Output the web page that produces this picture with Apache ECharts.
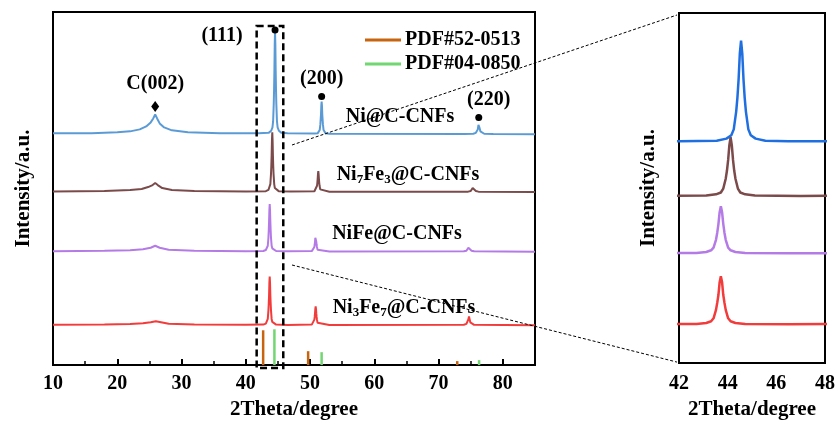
<!DOCTYPE html>
<html><head><meta charset="utf-8">
<script src="https://cdn.jsdelivr.net/npm/echarts@6/dist/echarts.min.js"></script>
<style>html,body{margin:0;padding:0;background:#fff}#c{width:838px;height:425px}</style>
</head><body><div id="c"></div>
<script>
// ---------- data (2Theta, intensity above each pattern's own baseline) ----------
const sampleNames = ['Ni@C-CNFs', 'Ni7Fe3@C-CNFs', 'NiFe@C-CNFs', 'Ni3Fe7@C-CNFs'];
const ni = [[10,1],[16,1],[20,2],[22,3],[23.5,5],[24.5,8],[25.2,12],[25.6,16],[25.9,20],[26.2,16],[26.6,11],[27.3,7],[28.5,4],[31,2],[36,1],[42,1],
  [43.55,1.5],[43.95,3.6],[44.15,7],[44.25,13],[44.35,31],[44.4,45],[44.45,64],[44.5,90],[44.55,103],[44.6,90],[44.65,64],[44.7,45],[44.75,31],[44.85,13],[44.95,7],[45.15,3.6],[45.55,1.5],[46.5,1],
  [50.7,0.8],[51.2,1.2],[51.4,2.3],[51.5,4.3],[51.6,10],[51.65,15],[51.7,20],[51.75,29],[51.8,33],[51.85,29],[51.9,20],[51.95,15],[52.0,10],[52.1,4.3],[52.2,2.3],[52.4,1.2],[53,0.6],
  [74,0.4],[75.4,0.6],[75.8,1.5],[76.0,3],[76.1,5],[76.15,7],[76.2,9.5],[76.25,11],[76.3,9.5],[76.35,7],[76.4,5],[76.5,3],[76.7,1.5],[77.1,0.6],[78.5,0.3],[85,0]];
const ni7fe3 = [[10,0.5],[18,1],[22,2],[23.8,3],[24.8,5],[25.5,7],[25.9,9],[26.3,7],[27,4],[28.5,2],[32,1],[40,0.5],
  [43.12,0.9],[43.52,2.1],[43.72,4],[43.82,8],[43.92,18],[43.97,26],[44.02,37],[44.07,52],[44.12,60],[44.17,52],[44.22,37],[44.27,26],[44.32,18],[44.42,8],[44.52,4],[44.72,2.1],[45.12,0.9],[47,0.5],
  [50.68,0.8],[50.88,1.5],[50.98,2.7],[51.08,6.3],[51.13,9],[51.18,13],[51.23,18],[51.28,21],[51.33,18],[51.38,13],[51.43,9],[51.48,6.3],[51.58,2.7],[51.68,1.5],[51.88,0.8],[53,0.3],
  [74.6,0.4],[75.0,1],[75.2,2],[75.3,4],[75.4,6],[75.5,4],[75.6,2],[75.8,1],[76.2,0.4],[85,0]];
const nife = [[10,0.5],[18,1],[22,1.5],[24,2.5],[25.2,4],[25.9,6],[26.6,4],[28,2],[32,1],[40,0.5],
  [42.72,0.7],[43.12,1.7],[43.32,3.4],[43.42,6],[43.52,14],[43.57,21],[43.62,30],[43.67,42],[43.72,48],[43.77,42],[43.82,30],[43.87,21],[43.92,14],[44.02,6],[44.12,3.4],[44.32,1.7],[44.72,0.7],[46.5,0.4],
  [50.27,0.6],[50.47,1.1],[50.57,2],[50.67,4.8],[50.72,7],[50.77,10],[50.82,14],[50.87,16],[50.92,14],[50.97,10],[51.02,7],[51.07,4.8],[51.17,2],[51.27,1.1],[51.47,0.6],[53,0.3],
  [73.93,0.4],[74.33,1],[74.53,2],[74.63,4],[74.73,6],[74.83,4],[74.93,2],[75.13,1],[75.53,0.4],[85,0]];
const ni3fe7 = [[10,0.5],[18,0.8],[22,1.2],[24,2],[25.2,3],[26,4],[26.8,3],[28,1.5],[32,0.8],[40,0.5],
  [42.72,0.7],[43.12,1.7],[43.32,3.4],[43.42,6.4],[43.52,15],[43.57,22],[43.62,30],[43.67,43],[43.72,49],[43.77,43],[43.82,30],[43.87,22],[43.92,15],[44.02,6.4],[44.12,3.4],[44.32,1.7],[44.72,0.7],[46.5,0.4],
  [50.27,0.7],[50.47,1.3],[50.57,2.5],[50.67,5.7],[50.72,8.4],[50.77,12],[50.82,16.5],[50.87,19],[50.92,16.5],[50.97,12],[51.02,8.4],[51.07,5.7],[51.17,2.5],[51.27,1.3],[51.47,0.7],[53,0.3],
  [73.93,0.5],[74.33,1.4],[74.53,3],[74.63,6],[74.73,9],[74.83,6],[74.93,3],[75.13,1.4],[75.53,0.5],[85,0]];
const pdfNames = ['PDF#52-0513', 'PDF#04-0850'];
const pdf52x = [42.7, 49.7, 72.9];
const pdf52y = [35, 14, 4];
const pdf04x = [44.45, 51.8, 76.3];
const pdf04y = [36, 13, 5];
const peakLabels = ['C(002)', '(111)', '(200)', '(220)'];
const peakX = [25.9, 44.55, 51.8, 76.25];
const peakY = [260, 337, 270, 249];
const mainTicks = {min: 10, max: 85, interval: 10};
const zoomTicks = {min: 42, max: 48, interval: 2};

// ---------- layout / style ----------
const FONT = '"Liberation Serif","Times New Roman",serif';
const leftOffsets = [232, 174, 114, 40];
const rightOffsets = [224, 169, 111, 39];
const curves = [ni, ni7fe3, nife, ni3fe7];
const leftColors = ['#5b9bd5', '#7b4a4a', '#b47ae6', '#f23c3c'];
const rightColors = ['#1f6fe0', '#7b4a4a', '#b47ae6', '#f23c3c'];
const tf = {fontFamily: FONT, fontWeight: 'bold', fontSize: 20, color: '#000'};

const chart = echarts.init(document.getElementById('c'), null, {renderer: 'canvas'});

function xAxisCfg(grid, t, withMinor, labelMargin, nameGap) {
  return {
    type: 'value', gridIndex: grid, min: t.min, max: t.max, interval: t.interval,
    name: '2Theta/degree', nameLocation: 'middle', nameGap: nameGap,
    nameTextStyle: Object.assign({}, tf, {fontSize: 21}),
    axisLine: {show: true, lineStyle: {color: '#000', width: 2}},
    axisTick: {show: withMinor, inside: true, length: 6, lineStyle: {color: '#000', width: 2}},
    minorTick: {show: withMinor, splitNumber: 2, length: 4, lineStyle: {color: '#000', width: 1.5}},
    axisLabel: Object.assign({}, tf, {margin: labelMargin, formatter: v => (Math.abs(v % t.interval) < 1e-9 ? String(v) : '')}),
    splitLine: {show: false}, minorSplitLine: {show: false}
  };
}
function yAxisCfg(grid, nameGap) {
  return {
    type: 'value', gridIndex: grid, min: 0, max: 355,
    name: 'Intensity/a.u.', nameLocation: 'middle', nameGap: nameGap, nameRotate: 90,
    nameTextStyle: Object.assign({}, tf, {fontSize: 21}),
    axisLine: {show: true, lineStyle: {color: '#000', width: 2}},
    axisTick: {show: false}, axisLabel: {show: false}, splitLine: {show: false}
  };
}

const series = [];
for (let i = curves.length - 1; i >= 0; i--) {
  series.push({
    type: 'line', name: sampleNames[i], xAxisIndex: 0, yAxisIndex: 0, symbol: 'none',
    data: curves[i].map(p => [p[0], p[1] + leftOffsets[i]]),
    lineStyle: {width: 2, color: leftColors[i]}, itemStyle: {color: leftColors[i]}, z: 3
  });
  series.push({
    type: 'line', name: sampleNames[i] + ' (zoom)', xAxisIndex: 1, yAxisIndex: 1, symbol: 'none', clip: true,
    data: curves[i].map(p => [p[0], p[1] + rightOffsets[i]]),
    lineStyle: {width: 2.5, color: rightColors[i]}, itemStyle: {color: rightColors[i]}, z: 3
  });
}
series.push({
  type: 'bar', name: pdfNames[0], xAxisIndex: 0, yAxisIndex: 0, barWidth: 2.5, barGap: '-100%',
  data: pdf52x.map((x, i) => [x, pdf52y[i]]), itemStyle: {color: '#c8640f'}
});
series.push({
  type: 'bar', name: pdfNames[1], xAxisIndex: 0, yAxisIndex: 0, barWidth: 2.5, barGap: '-100%',
  data: pdf04x.map((x, i) => [x, pdf04y[i]]), itemStyle: {color: '#72d672'}
});
const labelCfg = [
  {position: 'top', distance: 7, offset: [0, 0]},
  {position: 'left', distance: 29, offset: [0, 6]},
  {position: 'top', distance: 4, offset: [0, 0]},
  {position: 'top', distance: 4, offset: [10, 0]}
];
series.push({
  type: 'scatter', xAxisIndex: 0, yAxisIndex: 0, z: 5,
  data: peakX.map((x, i) => ({
    value: [x, peakY[i]],
    symbol: i === 0 ? 'diamond' : 'circle',
    symbolSize: i === 0 ? [8, 11] : 7,
    label: Object.assign({show: true, formatter: peakLabels[i]}, labelCfg[i], tf,
      {color: '#000', opacity: 1, textBorderWidth: 0, textShadowBlur: 0})
  })),
  itemStyle: {color: '#000', opacity: 1},
  emphasis: {disabled: true}
});

chart.setOption({
  animation: false,
  backgroundColor: '#fff',
  grid: [
    {left: 53, top: 12, width: 482, height: 355, show: true, borderColor: '#000', borderWidth: 2, backgroundColor: 'transparent'},
    {left: 679, top: 13, width: 149, height: 354, show: true, borderColor: '#000', borderWidth: 2, backgroundColor: 'transparent'}
  ],
  xAxis: [xAxisCfg(0, mainTicks, true, 9, 33), xAxisCfg(1, zoomTicks, false, 11, 31)],
  yAxis: [yAxisCfg(0, 19), yAxisCfg(1, 20)],
  legend: {
    data: pdfNames, orient: 'vertical', left: 365, top: 30, padding: 0, itemGap: 4,
    itemWidth: 36, itemHeight: 3, icon: 'rect',
    textStyle: Object.assign({}, tf, {lineHeight: 20, padding: [0, 0, 0, -1]})
  },
  series: series
});

// annotations: dashed zoom box, connector lines, sample names
const p1 = chart.convertToPixel({gridIndex: 0}, [41.69, 341]);
const p2 = chart.convertToPixel({gridIndex: 0}, [45.83, -3]);
const r1 = chart.convertToPixel({gridIndex: 1}, [42, 355]);
const r2 = chart.convertToPixel({gridIndex: 1}, [42, 0]);
const rich = {
  a: {fontFamily: FONT, fontWeight: 'bold', fontSize: 20, fill: '#000', lineHeight: 20, verticalAlign: 'top'},
  s: {fontFamily: FONT, fontWeight: 'bold', fontSize: 13, fill: '#000', lineHeight: 13, padding: [8, 0, 0, 0], verticalAlign: 'top'}
};
function nameText(x, y, txt) {
  return {type: 'text', x: x, y: y, z: 50,
    style: {text: txt, rich: rich, align: 'center', verticalAlign: 'middle', fill: '#000',
      font: 'bold 20px ' + FONT}};
}
chart.setOption({
  graphic: [
    {type: 'rect', z: 100, shape: {x: p1[0], y: p1[1], width: p2[0] - p1[0], height: p2[1] - p1[1]},
      style: {fill: 'none', stroke: '#000', lineWidth: 2.5, lineDash: [7, 4]}},
    {type: 'line', z: 100, shape: {x1: 292, y1: 145, x2: r1[0] - 2, y2: r1[1] + 2},
      style: {stroke: '#000', lineWidth: 1, lineDash: [3, 2]}},
    {type: 'line', z: 100, shape: {x1: 292, y1: 265, x2: r2[0] - 2, y2: r2[1] - 1},
      style: {stroke: '#000', lineWidth: 1, lineDash: [3, 2]}},
    nameText(400, 117, '{a|Ni@C-CNFs}'),
    nameText(408, 175, '{a|Ni}{s|7}{a|Fe}{s|3}{a|@C-CNFs}'),
    nameText(397, 234, '{a|NiFe@C-CNFs}'),
    nameText(404, 308, '{a|Ni}{s|3}{a|Fe}{s|7}{a|@C-CNFs}')
  ]
});
</script>
</body></html>
